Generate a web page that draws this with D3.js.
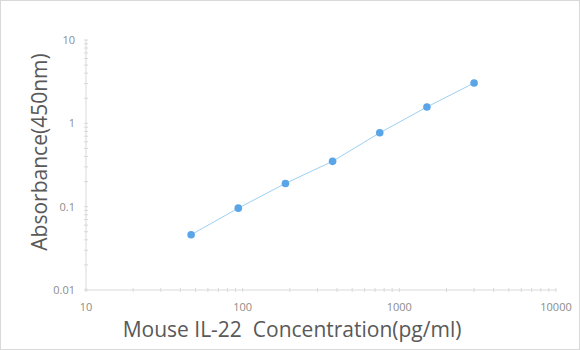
<!DOCTYPE html>
<html lang="en">
<head>
  <meta charset="UTF-8" />
  <title>Mouse IL-22 Standard Curve</title>
  <script src="https://d3js.org/d3.v7.min.js"></script>
  <style>
    body { margin: 0; background: #fff; }
    text { font-family: "Open Sans", "Noto Sans", sans-serif; }
  </style>
</head>
<body>
  <svg id="chart" width="580" height="350"></svg>
  <script>
    // standard curve points
    const concentrations = [46.875, 93.75, 187.5, 375, 750, 1500, 3000];
    const absorbance = [0.046, 0.096, 0.19, 0.35, 0.77, 1.57, 3.05];
    const xTicks = [10, 100, 1000, 10000];
    const yTicks = [0.01, 0.1, 1, 10];

    const svg = d3.select("#chart");
    const plotLeft = 86, plotRight = 556, plotTop = 40, plotBottom = 290;

    svg.append("rect")
      .attr("x", 0.5).attr("y", 0.5)
      .attr("width", 579).attr("height", 349)
      .attr("fill", "#fff")
      .attr("stroke", "#d9d9d9");

    const x = d3.scaleLog().domain([10, 10000]).range([plotLeft, plotRight]);
    const y = d3.scaleLog().domain([0.01, 10]).range([plotBottom, plotTop]);

    // minor ticks at 2..9 of every decade
    const minorX = [];
    const minorY = [];
    for (let d = 10; d < 10000; d *= 10) {
      for (let k = 2; k <= 9; k++) minorX.push(d * k);
    }
    for (let d = 0.01; d < 9; d *= 10) {
      for (let k = 2; k <= 9; k++) minorY.push(d * k);
    }

    const axisColor = "#d9d9d9";

    svg.append("line")
      .attr("x1", plotLeft).attr("x2", plotLeft)
      .attr("y1", plotTop).attr("y2", plotBottom)
      .attr("stroke", axisColor);
    svg.append("line")
      .attr("x1", plotLeft).attr("x2", plotRight)
      .attr("y1", plotBottom).attr("y2", plotBottom)
      .attr("stroke", axisColor);

    svg.selectAll(".mx")
      .data(minorX.concat(xTicks))
      .enter().append("line")
      .attr("x1", d => x(d)).attr("x2", d => x(d))
      .attr("y1", plotBottom - 2).attr("y2", plotBottom + 2)
      .attr("stroke", axisColor);

    svg.selectAll(".my")
      .data(minorY.concat(yTicks))
      .enter().append("line")
      .attr("x1", plotLeft - 2).attr("x2", plotLeft + 2)
      .attr("y1", d => y(d)).attr("y2", d => y(d))
      .attr("stroke", axisColor);

    svg.selectAll(".xl")
      .data(xTicks)
      .enter().append("text")
      .attr("x", d => x(d))
      .attr("y", plotBottom + 21)
      .attr("text-anchor", "middle")
      .attr("font-size", 11)
      .attr("fill", "#8c8c8c")
      .text(d => d);

    svg.selectAll(".yl")
      .data(yTicks)
      .enter().append("text")
      .attr("x", plotLeft - 11)
      .attr("y", d => y(d) + 4)
      .attr("text-anchor", "end")
      .attr("font-size", 11)
      .attr("fill", "#8c8c8c")
      .text(d => d);

    const line = d3.line()
      .x((d, i) => x(concentrations[i]))
      .y(d => y(d));

    svg.append("path")
      .datum(absorbance)
      .attr("d", line)
      .attr("fill", "none")
      .attr("stroke", "#9dd0f2")
      .attr("stroke-width", 1);

    svg.selectAll(".pt")
      .data(absorbance)
      .enter().append("circle")
      .attr("cx", (d, i) => x(concentrations[i]))
      .attr("cy", d => y(d))
      .attr("r", 3.8)
      .attr("fill", "#5aa5e8");

    svg.append("text")
      .attr("x", 292)
      .attr("y", 337)
      .attr("text-anchor", "middle")
      .attr("font-size", 21)
      .attr("fill", "#595959")
      .attr("xml:space", "preserve")
      .text("Mouse IL-22  Concentration(pg/ml)");

    svg.append("text")
      .attr("transform", "translate(47,152) rotate(-90)")
      .attr("text-anchor", "middle")
      .attr("font-size", 21)
      .attr("fill", "#595959")
      .text("Absorbance(450nm)");
  </script>
</body>
</html>
